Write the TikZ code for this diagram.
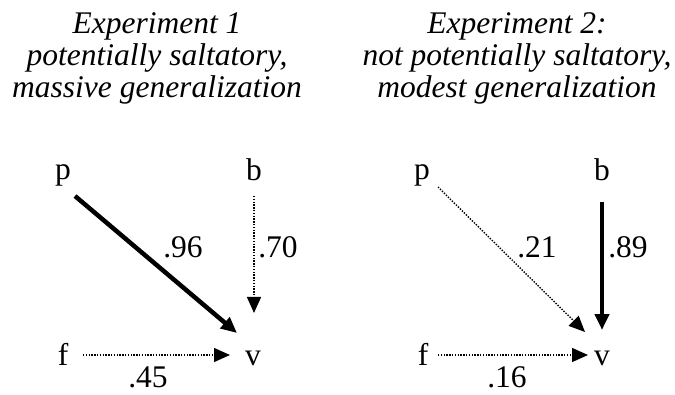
\documentclass[tikz,border=0pt]{standalone}
\usepackage{fontspec}
\setmainfont{Liberation Serif}
\usetikzlibrary{arrows.meta, positioning}
\tikzset{
  letter/.style = {inner sep=0pt, anchor=base, font=\fontsize{31.5}{32}\selectfont},
  weightLbl/.style = {inner sep=0pt, anchor=base, font=\fontsize{31.5}{32}\selectfont},
  heading/.style = {inner sep=0pt, anchor=north, align=center,
    font=\fontsize{31.5}{32}\selectfont\itshape},
  strongArr/.style = {-{Triangle[length=16pt, width=14pt]}, line width=4.5pt},
  weakArr/.style = {-{Triangle[length=16pt, width=14pt]}, line width=1.4pt,
    dash pattern=on 1.4pt off 1.4pt},
}

\begin{document}
\begin{tikzpicture}[x=1pt, y=1pt]
\useasboundingbox (0,0) rectangle (675,394);

% Experiment 1
\node[heading] (t1) at (157,382) {Experiment 1\\potentially saltatory,\\massive generalization};
\node[letter] (p1) at (63,214) {p};
\node[letter] (b1) at (254,213) {b};
\node[letter] (f1) at (63,29) {f};
\node[letter] (v1) at (253,29) {v};

\draw[strongArr] ([shift={(12,-16)}]p1.base) -- ([shift={(-16,32)}]v1.base);
\draw[weakArr] ([shift={(0,-15)}]b1.base) -- ([shift={(1,52)}]v1.base);
\draw[weakArr] ([shift={(20,10)}]f1.base) -- ([shift={(-23,10)}]v1.base);

\node[weightLbl] (w1) at (183,136) {.96};
\node[weightLbl] (w2) at (278,136) {.70};
\node[weightLbl] (w3) at (148,7) {.45};

% Experiment 2
\node[heading] (t2) at (517,382) {Experiment 2:\\not potentially saltatory,\\modest generalization};
\node[letter] (p2) at (422,214) {p};
\node[letter] (b2) at (602,213) {b};
\node[letter] (f2) at (423,29) {f};
\node[letter] (v2) at (602,29) {v};

\draw[weakArr] ([shift={(16,-7)}]p2.base) -- ([shift={(-17,33)}]v2.base);
\draw[strongArr] ([shift={(0,-21)}]b2.base) -- ([shift={(0,35)}]v2.base);
\draw[weakArr] ([shift={(15,10)}]f2.base) -- ([shift={(-14,10)}]v2.base);

\node[weightLbl] (w4) at (537,136) {.21};
\node[weightLbl] (w5) at (628,136) {.89};
\node[weightLbl] (w6) at (507,7) {.16};
\end{tikzpicture}
\end{document}
